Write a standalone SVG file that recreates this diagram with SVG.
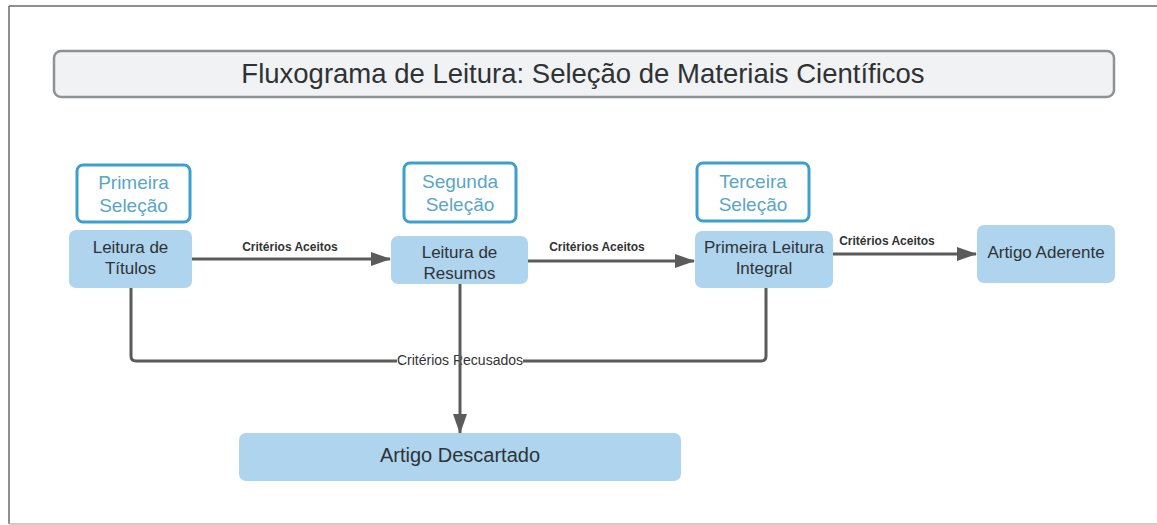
<svg xmlns="http://www.w3.org/2000/svg" width="1157" height="525" viewBox="0 0 1157 525">
<defs>
<style>
.sel{fill:#ffffff;stroke:#3d9fd0;stroke-width:3}
.sel-t{font-family:"Liberation Sans",Arial,sans-serif;font-size:19px;fill:#5aa6c6;text-anchor:middle}
.step{fill:#aed4ee;stroke:none}
.step-t{font-family:"Liberation Sans",Arial,sans-serif;font-size:17px;fill:#2e3338;text-anchor:middle}
.big{font-size:20px}
.edge{fill:none;stroke:#5b5b5b;stroke-width:3}
.lbl{font-family:"Liberation Sans",Arial,sans-serif;font-size:12px;font-weight:bold;fill:#333;text-anchor:middle}
</style>
<marker id="arr" viewBox="0 0 20 14" refX="19" refY="7" markerWidth="20" markerHeight="14" markerUnits="userSpaceOnUse" orient="auto">
<path d="M0,0 L20,7 L0,14 Z" fill="#5b5b5b"/>
</marker>
</defs>
<rect width="1157" height="525" fill="#ffffff"/>
<g id="frame">
<line x1="9" y1="6" x2="1157" y2="6" stroke="#6a6a6a" stroke-width="1.5"/>
<line x1="9" y1="6" x2="9" y2="524" stroke="#6a6a6a" stroke-width="1.5"/>
<line x1="9" y1="524" x2="1157" y2="524" stroke="#bdbdbd" stroke-width="1.5"/>
</g>
<g id="title">
<rect x="54" y="51" width="1060" height="46" rx="7" fill="#f0f2f3" stroke="#8f9295" stroke-width="2.5"/>
<text x="583" y="83" font-family="'Liberation Sans',Arial,sans-serif" font-size="27.5" fill="#2f3235" text-anchor="middle">Fluxograma de Leitura: Seleção de Materiais Científicos</text>
</g>
<g id="sel1">
<rect class="sel" x="77" y="165" width="113" height="57" rx="6"/>
<text class="sel-t" x="133.5" y="189">Primeira</text>
<text class="sel-t" x="133.5" y="212">Seleção</text>
</g>
<g id="sel2">
<rect class="sel" x="404" y="163" width="112" height="59" rx="6"/>
<text class="sel-t" x="460" y="188">Segunda</text>
<text class="sel-t" x="460" y="211">Seleção</text>
</g>
<g id="sel3">
<rect class="sel" x="697" y="163" width="112" height="58" rx="6"/>
<text class="sel-t" x="753" y="188">Terceira</text>
<text class="sel-t" x="753" y="211">Seleção</text>
</g>
<g id="connectors">
<line class="edge" x1="192" y1="259" x2="390" y2="259" marker-end="url(#arr)"/>
<text class="lbl" x="290" y="251">Critérios Aceitos</text>
<line class="edge" x1="528" y1="261" x2="694" y2="261" marker-end="url(#arr)"/>
<text class="lbl" x="597" y="251">Critérios Aceitos</text>
<line class="edge" x1="833" y1="254" x2="976" y2="254" marker-end="url(#arr)"/>
<text class="lbl" x="887" y="245">Critérios Aceitos</text>
<path class="edge" d="M131,288 V356 Q131,361 136,361 H761 Q766,361 766,356 V288"/>
<rect x="397" y="352" width="126" height="16" fill="#ffffff"/>
<text x="460" y="365" font-family="'Liberation Sans',Arial,sans-serif" font-size="14" fill="#333" text-anchor="middle">Critérios Recusados</text>
<line class="edge" x1="460" y1="284" x2="460" y2="433" marker-end="url(#arr)"/>
</g>
<g id="titulos">
<rect class="step" x="69" y="230" width="123" height="58" rx="7"/>
<text class="step-t" x="130.5" y="253">Leitura de</text>
<text class="step-t" x="130.5" y="274">Títulos</text>
</g>
<g id="resumos">
<rect class="step" x="391" y="236" width="137" height="48" rx="7"/>
<text class="step-t" x="459.5" y="258">Leitura de</text>
<text class="step-t" x="459.5" y="279">Resumos</text>
</g>
<g id="integral">
<rect class="step" x="695" y="231" width="138" height="57" rx="7"/>
<text class="step-t" x="764" y="253">Primeira Leitura</text>
<text class="step-t" x="764" y="274">Integral</text>
</g>
<g id="aderente">
<rect class="step" x="977" y="225" width="138" height="58" rx="7"/>
<text class="step-t" x="1046" y="258">Artigo Aderente</text>
</g>
<g id="descartado">
<rect class="step" x="239" y="433" width="442" height="48" rx="7"/>
<text class="step-t big" x="460" y="462">Artigo Descartado</text>
</g>
</svg>
